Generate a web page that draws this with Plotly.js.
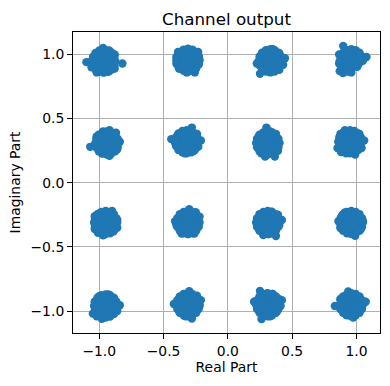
<!DOCTYPE html>
<html><head><meta charset="utf-8">
<script src="https://cdn.plot.ly/plotly-3.0.1.min.js"></script>
<style>html,body{margin:0;padding:0;background:#fff}#plot{width:390px;height:386px}</style>
</head><body><div id="plot"></div>
<script>
// Received symbols (real part), grouped by constellation cluster
const realPart = [
  -0.965,-1.00,-0.93,-1.00,-0.93,-0.97,-1.10,-1.06,-1.04,-0.97,-0.92,-0.88,-0.82,-0.88,-0.92,-1.02,-1.06,
  -0.31,-0.35,-0.27,-0.34,-0.28,-0.31,-0.30,-0.387,-0.309,-0.231,-0.40,-0.40,-0.38,-0.225,-0.225,-0.32,-0.257,-0.35,
  -0.94,-0.98,-0.90,-0.99,-0.89,-0.94,-1.07,-1.03,-0.97,-0.92,-0.87,-0.84,-0.86,-0.92,-0.98,-1.02,
  -0.32,-0.36,-0.28,-0.37,-0.27,-0.32,-0.44,-0.41,-0.39,-0.33,-0.28,-0.24,-0.21,-0.23,-0.27,-0.335,-0.38,
  0.33,0.29,0.37,0.28,0.38,0.33,0.225,0.25,0.30,0.35,0.40,0.444,0.43,0.40,0.35,0.25,0.27,
  0.96,0.92,1.00,0.91,0.97,0.865,0.865,0.87,0.897,0.95,1.02,1.078,1.04,1.00,0.94,0.895,
  0.31,0.27,0.35,0.27,0.35,0.31,0.23,0.24,0.25,0.30,0.33,0.374,0.40,0.39,0.365,0.29,0.26,0.29,
  0.95,0.91,0.99,0.91,0.99,0.95,0.852,0.86,0.875,0.91,0.97,1.023,1.06,1.04,0.99,0.92,0.88,
  -0.95,-0.99,-0.91,-0.99,-0.91,-0.95,-1.035,-1.035,-1.035,-1.00,-0.95,-0.90,-0.86,-0.86,-0.89,-0.97,-1.01,
  -0.31,-0.35,-0.27,-0.35,-0.27,-0.31,-0.41,-0.36,-0.30,-0.25,-0.22,-0.23,-0.26,-0.31,-0.36,-0.38,-0.40,
  -0.95,-0.99,-0.91,-0.99,-0.91,-0.95,-1.05,-1.035,-1.00,-0.93,-0.895,-0.84,-0.86,-0.91,-0.98,-1.02,
  -0.31,-0.35,-0.27,-0.35,-0.27,-0.31,-0.42,-0.38,-0.30,-0.24,-0.21,-0.22,-0.24,-0.28,-0.33,-0.38,
  0.31,0.27,0.35,0.27,0.35,0.31,0.225,0.265,0.30,0.34,0.39,0.42,0.40,0.374,0.32,0.275,0.241,
  0.96,0.92,1.00,0.92,1.00,0.96,0.86,0.887,0.91,0.96,1.012,1.05,1.035,0.99,0.93,0.875,
  0.31,0.27,0.35,0.27,0.35,0.31,0.204,0.25,0.30,0.35,0.397,0.42,0.41,0.385,0.33,0.262,0.23,
  0.96,0.92,1.00,0.92,1.00,0.96,0.832,0.875,0.936,0.99,1.023,1.072,1.02,0.975,0.92,0.875,
  // dense inner samples of each cluster
  -1.03,-0.90,-0.965,-0.965,-1.011,-0.919,-1.011,-0.919,
  -0.375,-0.245,-0.31,-0.31,-0.356,-0.264,-0.356,-0.264,
  -1.005,-0.875,-0.94,-0.94,-0.986,-0.894,-0.986,-0.894,
  -0.385,-0.255,-0.32,-0.32,-0.366,-0.274,-0.366,-0.274,
  0.265,0.395,0.33,0.33,0.284,0.376,0.284,0.376,
  0.895,1.025,0.96,0.96,0.914,1.006,0.914,1.006,
  0.245,0.375,0.31,0.31,0.264,0.356,0.264,0.356,
  0.885,1.015,0.95,0.95,0.904,0.996,0.904,0.996,
  -1.015,-0.885,-0.95,-0.95,-0.996,-0.904,-0.996,-0.904,
  -0.375,-0.245,-0.31,-0.31,-0.356,-0.264,-0.356,-0.264,
  -1.015,-0.885,-0.95,-0.95,-0.996,-0.904,-0.996,-0.904,
  -0.375,-0.245,-0.31,-0.31,-0.356,-0.264,-0.356,-0.264,
  0.245,0.375,0.31,0.31,0.264,0.356,0.264,0.356,
  0.895,1.025,0.96,0.96,0.914,1.006,0.914,1.006,
  0.245,0.375,0.31,0.31,0.264,0.356,0.264,0.356,
  0.895,1.025,0.96,0.96,0.914,1.006,0.914,1.006,
  // mid-outer samples of each cluster
  -0.882,-0.931,-0.999,-1.048,-1.048,-0.999,-0.931,-0.882,
  -0.227,-0.276,-0.344,-0.393,-0.393,-0.344,-0.276,-0.227,
  -0.857,-0.906,-0.974,-1.023,-1.023,-0.974,-0.906,-0.857,
  -0.237,-0.286,-0.354,-0.403,-0.403,-0.354,-0.286,-0.237,
  0.413,0.364,0.296,0.247,0.247,0.296,0.364,0.413,
  1.043,0.994,0.926,0.877,0.877,0.926,0.95,1.02,
  0.393,0.344,0.276,0.227,0.227,0.276,0.344,0.393,
  1.033,0.984,0.916,0.867,0.867,0.916,0.984,1.033,
  -0.867,-0.916,-0.984,-1.033,-1.033,-0.984,-0.916,-0.867,
  -0.227,-0.276,-0.344,-0.393,-0.393,-0.344,-0.276,-0.227,
  -0.867,-0.916,-0.984,-1.033,-1.033,-0.984,-0.916,-0.867,
  -0.227,-0.276,-0.344,-0.393,-0.393,-0.344,-0.276,-0.227,
  0.393,0.344,0.276,0.227,0.227,0.276,0.344,0.393,
  1.043,0.994,0.926,0.877,0.877,0.926,0.994,1.043,
  0.393,0.344,0.276,0.227,0.227,0.276,0.344,0.393,
  1.043,0.994,0.926,0.877,0.877,0.926,0.994,1.043,
  // edge samples of each cluster
  -0.875,-0.901,-0.965,-1.029,-1.055,-1.029,-0.965,-0.901,
  -0.22,-0.246,-0.31,-0.374,-0.40,-0.374,-0.31,-0.246,
  -0.85,-0.876,-0.94,-1.004,-1.03,-1.004,-0.94,-0.876,
  -0.23,-0.256,-0.32,-0.384,-0.41,-0.384,-0.32,-0.256,
  0.42,0.394,0.33,0.266,0.24,0.266,0.33,0.394,
  1.05,1.024,0.96,0.896,0.87,0.896,0.96,0.93,
  0.40,0.374,0.31,0.246,0.22,0.246,0.31,0.374,
  1.04,1.014,0.95,0.886,0.86,0.886,0.95,1.014,
  -0.86,-0.886,-0.95,-1.014,-1.04,-1.014,-0.95,-0.886,
  -0.22,-0.246,-0.31,-0.374,-0.40,-0.374,-0.31,-0.246,
  -0.86,-0.886,-0.95,-1.014,-1.04,-1.014,-0.95,-0.886,
  -0.22,-0.246,-0.31,-0.374,-0.40,-0.374,-0.31,-0.246,
  0.40,0.374,0.31,0.246,0.22,0.246,0.31,0.374,
  1.05,1.024,0.96,0.896,0.87,0.896,0.96,1.024,
  0.40,0.374,0.31,0.246,0.22,0.246,0.31,0.374,
  1.05,1.024,0.96,0.896,0.87,0.896,0.96,1.024,
  // near-centre samples of each cluster
  -0.943,-0.987,-0.987,-0.943,
  -0.288,-0.332,-0.332,-0.288,
  -0.918,-0.962,-0.962,-0.918,
  -0.298,-0.342,-0.342,-0.298,
  0.352,0.308,0.308,0.352,
  0.982,0.938,0.938,0.982,
  0.332,0.288,0.288,0.332,
  0.972,0.928,0.928,0.972,
  -0.928,-0.972,-0.972,-0.928,
  -0.288,-0.332,-0.332,-0.288,
  -0.928,-0.972,-0.972,-0.928,
  -0.288,-0.332,-0.332,-0.288,
  0.332,0.288,0.288,0.332,
  0.982,0.938,0.938,0.982,
  0.332,0.288,0.288,0.332,
  0.982,0.938,0.938,0.982
];
// Received symbols (imaginary part), same order
const imagPart = [
  0.948,0.97,0.97,0.92,0.92,0.90,0.94,0.90,0.98,1.05,1.03,1.00,0.93,0.89,0.87,0.86,0.95,
  0.955,0.97,0.97,0.92,0.92,1.00,0.89,1.02,1.04,1.02,0.98,0.93,0.89,0.98,0.93,0.86,0.86,0.894,
  0.31,0.35,0.35,0.28,0.28,0.25,0.28,0.30,0.40,0.41,0.39,0.32,0.26,0.21,0.23,0.36,
  0.32,0.35,0.35,0.29,0.29,0.26,0.34,0.31,0.37,0.39,0.43,0.38,0.33,0.28,0.245,0.23,0.26,
  0.95,0.98,0.98,0.92,0.92,0.90,0.93,0.98,1.03,1.04,1.01,0.97,0.92,0.88,0.87,0.85,0.88,
  0.95,0.97,0.97,0.92,0.91,1.00,0.93,0.87,1.066,1.02,1.01,0.98,0.95,0.91,0.87,0.855,
  0.31,0.34,0.34,0.27,0.27,0.24,0.31,0.36,0.26,0.43,0.40,0.38,0.31,0.25,0.205,0.205,0.23,0.39,
  0.32,0.35,0.35,0.28,0.28,0.25,0.27,0.32,0.38,0.41,0.40,0.38,0.33,0.27,0.22,0.23,0.24,
  -0.31,-0.28,-0.28,-0.35,-0.35,-0.37,-0.26,-0.32,-0.36,-0.24,-0.24,-0.22,-0.29,-0.35,-0.38,-0.41,-0.39,
  -0.31,-0.28,-0.28,-0.34,-0.34,-0.37,-0.30,-0.255,-0.207,-0.23,-0.265,-0.335,-0.395,-0.40,-0.395,-0.35,-0.33,
  -0.96,-0.93,-0.93,-0.99,-0.99,-1.02,-1.02,-0.93,-0.885,-0.87,-0.906,-0.955,-1.00,-1.03,-1.06,-1.04,
  -0.95,-0.92,-0.92,-0.99,-0.99,-1.02,-0.945,-0.905,-0.845,-0.88,-0.915,-0.96,-0.985,-1.058,-1.04,-1.00,
  -0.31,-0.28,-0.28,-0.34,-0.34,-0.37,-0.32,-0.256,-0.235,-0.225,-0.25,-0.29,-0.33,-0.415,-0.40,-0.408,-0.36,
  -0.31,-0.28,-0.28,-0.34,-0.34,-0.37,-0.30,-0.256,-0.232,-0.24,-0.256,-0.30,-0.36,-0.414,-0.38,-0.353,
  -0.95,-0.92,-0.92,-0.99,-0.99,-1.02,-0.927,-0.843,-0.865,-0.867,-0.906,-0.915,-0.96,-1.00,-1.04,-1.063,-0.97,
  -0.95,-0.92,-0.92,-0.98,-0.98,-1.01,-0.96,-0.906,-0.848,-0.87,-0.906,-0.927,-0.973,-1.05,-1.03,-0.984,
  // dense inner samples of each cluster
  0.948,0.948,1.013,0.883,0.994,0.994,0.902,0.902,
  0.955,0.955,1.02,0.89,1.001,1.001,0.909,0.909,
  0.31,0.31,0.375,0.245,0.356,0.356,0.264,0.264,
  0.32,0.32,0.385,0.255,0.366,0.366,0.274,0.274,
  0.95,0.95,1.015,0.885,0.996,0.996,0.904,0.904,
  0.95,0.95,1.015,0.885,0.996,0.996,0.904,0.904,
  0.31,0.31,0.375,0.245,0.356,0.356,0.264,0.264,
  0.32,0.32,0.385,0.255,0.366,0.366,0.274,0.274,
  -0.31,-0.31,-0.245,-0.375,-0.264,-0.264,-0.356,-0.356,
  -0.31,-0.31,-0.245,-0.375,-0.264,-0.264,-0.356,-0.356,
  -0.96,-0.96,-0.895,-1.025,-0.914,-0.914,-1.006,-1.006,
  -0.95,-0.95,-0.885,-1.015,-0.904,-0.904,-0.996,-0.996,
  -0.31,-0.31,-0.245,-0.375,-0.264,-0.264,-0.356,-0.356,
  -0.31,-0.31,-0.245,-0.375,-0.264,-0.264,-0.356,-0.356,
  -0.95,-0.95,-0.885,-1.015,-0.904,-0.904,-0.996,-0.996,
  -0.95,-0.95,-0.885,-1.015,-0.904,-0.904,-0.996,-0.996,
  // mid-outer samples of each cluster
  0.982,1.031,1.031,0.982,0.914,0.865,0.865,0.914,
  0.989,1.038,1.038,0.989,0.921,0.872,0.872,0.921,
  0.344,0.393,0.393,0.344,0.276,0.227,0.227,0.276,
  0.354,0.403,0.403,0.354,0.286,0.237,0.237,0.286,
  0.984,1.033,1.033,0.984,0.916,0.867,0.867,0.916,
  0.984,1.033,1.033,0.984,0.916,0.867,0.88,0.93,
  0.344,0.393,0.393,0.344,0.276,0.227,0.227,0.276,
  0.354,0.403,0.403,0.354,0.286,0.237,0.237,0.286,
  -0.276,-0.227,-0.227,-0.276,-0.344,-0.393,-0.393,-0.344,
  -0.276,-0.227,-0.227,-0.276,-0.344,-0.393,-0.393,-0.344,
  -0.926,-0.877,-0.877,-0.926,-0.994,-1.043,-1.043,-0.994,
  -0.916,-0.867,-0.867,-0.916,-0.984,-1.033,-1.033,-0.984,
  -0.276,-0.227,-0.227,-0.276,-0.344,-0.393,-0.393,-0.344,
  -0.276,-0.227,-0.227,-0.276,-0.344,-0.393,-0.393,-0.344,
  -0.916,-0.867,-0.867,-0.916,-0.984,-1.033,-1.033,-0.984,
  -0.916,-0.867,-0.867,-0.916,-0.984,-1.033,-1.033,-0.984,
  // edge samples of each cluster
  0.948,1.012,1.038,1.012,0.948,0.884,0.858,0.884,
  0.955,1.019,1.045,1.019,0.955,0.891,0.865,0.891,
  0.31,0.374,0.40,0.374,0.31,0.246,0.22,0.246,
  0.32,0.384,0.41,0.384,0.32,0.256,0.23,0.256,
  0.95,1.014,1.04,1.014,0.95,0.886,0.86,0.886,
  0.95,1.014,1.04,1.014,0.95,0.886,0.86,0.88,
  0.31,0.374,0.40,0.374,0.31,0.246,0.22,0.246,
  0.32,0.384,0.41,0.384,0.32,0.256,0.23,0.256,
  -0.31,-0.246,-0.22,-0.246,-0.31,-0.374,-0.40,-0.374,
  -0.31,-0.246,-0.22,-0.246,-0.31,-0.374,-0.40,-0.374,
  -0.96,-0.896,-0.87,-0.896,-0.96,-1.024,-1.05,-1.024,
  -0.95,-0.886,-0.86,-0.886,-0.95,-1.014,-1.04,-1.014,
  -0.31,-0.246,-0.22,-0.246,-0.31,-0.374,-0.40,-0.374,
  -0.31,-0.246,-0.22,-0.246,-0.31,-0.374,-0.40,-0.374,
  -0.95,-0.886,-0.86,-0.886,-0.95,-1.014,-1.04,-1.014,
  -0.95,-0.886,-0.86,-0.886,-0.95,-1.014,-1.04,-1.014,
  // near-centre samples of each cluster
  0.970,0.970,0.926,0.926,
  0.977,0.977,0.933,0.933,
  0.332,0.332,0.288,0.288,
  0.342,0.342,0.298,0.298,
  0.972,0.972,0.928,0.928,
  0.972,0.972,0.928,0.928,
  0.332,0.332,0.288,0.288,
  0.342,0.342,0.298,0.298,
  -0.288,-0.288,-0.332,-0.332,
  -0.288,-0.288,-0.332,-0.332,
  -0.938,-0.938,-0.982,-0.982,
  -0.928,-0.928,-0.972,-0.972,
  -0.288,-0.288,-0.332,-0.332,
  -0.288,-0.288,-0.332,-0.332,
  -0.928,-0.928,-0.972,-0.972,
  -0.928,-0.928,-0.972,-0.972
];
const tickValues = [-1.0, -0.5, 0.0, 0.5, 1.0];
const chartTitle = "Channel output";
const xLabel = "Real Part";
const yLabel = "Imaginary Part";

const axisCommon = {
  showgrid: true, gridcolor: "#b0b0b0", gridwidth: 1.1,
  zeroline: false, showline: true, linecolor: "#000", linewidth: 1.1, mirror: true,
  ticks: "outside", ticklen: 4.9, tickwidth: 1.1, tickcolor: "#000",
  tickvals: tickValues, tickformat: ".1f",
  tickfont: {family: "DejaVu Sans", size: 13.9, color: "#000"}
};

Plotly.newPlot("plot", [{
  type: "scatter", mode: "markers", x: realPart, y: imagPart,
  marker: {color: "#1f77b4", size: 8.4, line: {width: 0}},
  hoverinfo: "skip"
}], {
  width: 390, height: 386,
  margin: {l: 73.3, r: 10, t: 32, b: 53},
  paper_bgcolor: "#fff", plot_bgcolor: "#fff",
  showlegend: false,
  font: {family: "DejaVu Sans", color: "#000"},
  title: {text: chartTitle, x: 0.5, xref: "paper", y: 1, yref: "paper", yanchor: "bottom", pad: {b: 7},
          font: {family: "DejaVu Sans", size: 16.7, color: "#000"}},
  xaxis: Object.assign({}, axisCommon, {range: [-1.204, 1.183],
    title: {text: xLabel, standoff: 4, font: {family: "DejaVu Sans", size: 13.9, color: "#000"}}}),
  yaxis: Object.assign({}, axisCommon, {range: [-1.171, 1.175],
    title: {text: yLabel, standoff: 6, font: {family: "DejaVu Sans", size: 13.9, color: "#000"}}})
}, {displayModeBar: false, staticPlot: true});
</script>
</body></html>
